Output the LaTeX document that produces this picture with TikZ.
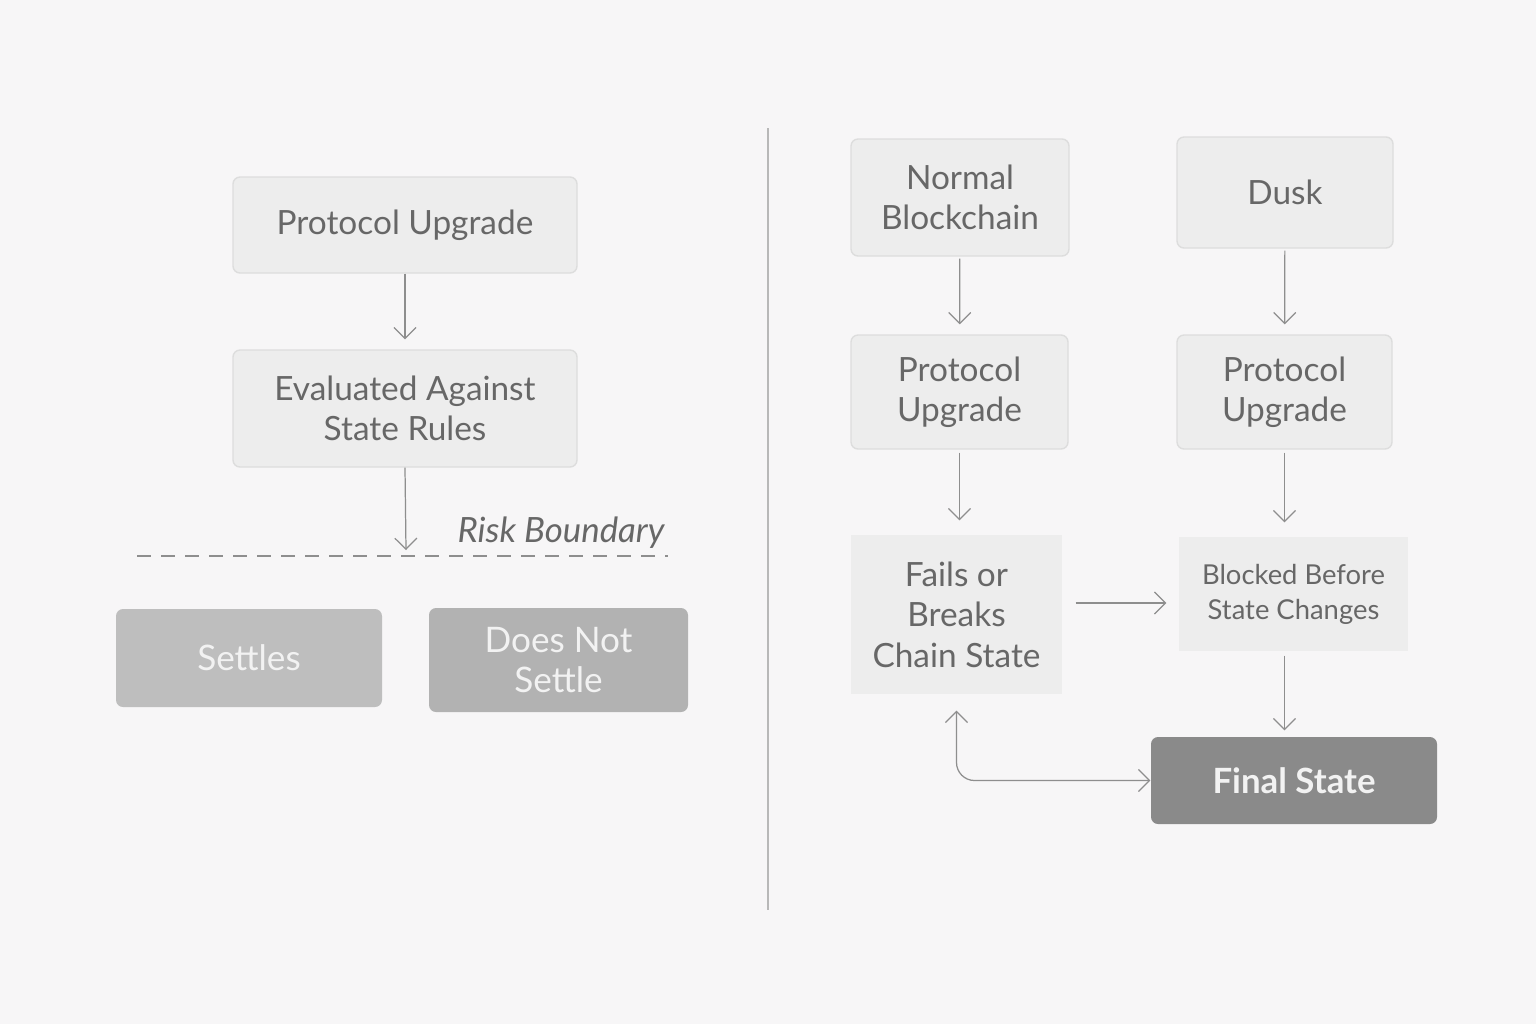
\documentclass[tikz,border=0pt]{standalone}
\usepackage{fontspec}
\setmainfont{Lato}
\usetikzlibrary{arrows.meta,positioning}
\definecolor{paper}{HTML}{F7F6F7}
\definecolor{boxfill}{HTML}{EDEDED}
\definecolor{boxline}{HTML}{DDDDDD}
\definecolor{txtgray}{HTML}{676767}
\definecolor{arrgray}{HTML}{8E8E8E}
\definecolor{settlefill}{HTML}{BEBEBE}
\definecolor{nosettlefill}{HTML}{B2B2B2}
\definecolor{finalfill}{HTML}{8A8A8A}
\begin{document}
\begin{tikzpicture}[
  box/.style={rectangle, draw=boxline, fill=boxfill, text=txtgray, align=center, inner sep=0pt, rounded corners=2pt, font=\fontsize{9.5}{11.4}\selectfont},
  flat/.style={rectangle, fill=boxfill, text=txtgray, align=center, inner sep=0pt, font=\fontsize{9.5}{11.5}\selectfont},
  dark/.style={rectangle, fill=#1, text=white!95!black, align=center, inner sep=0pt, rounded corners=2pt, font=\fontsize{10}{11.2}\selectfont},
  arr/.style={-{Straight Barb[length=1.1mm, width=2.2mm]}, arrgray, line width=0.35pt},
  biarr/.style={{Straight Barb[length=1.1mm, width=2.2mm]}-{Straight Barb[length=1.1mm, width=2.2mm]}, arrgray, line width=0.35pt}
]
  \fill[paper] (0,0) rectangle (15.36,-10.24);
  \useasboundingbox (0,0) rectangle (15.36,-10.24);

  \coordinate (divtop) at (7.68,-1.28);
  \coordinate (divbot) at (7.68,-9.10);
  \draw[black!28, line width=0.4pt] (divtop) -- (divbot);

  \node[box, minimum width=3.44cm, minimum height=0.96cm] (up) at (4.05,-2.25) {Protocol Upgrade};
  \node[box, minimum width=3.44cm, minimum height=1.17cm] (eval) at (4.05,-4.085) {Evaluated Against\\State Rules};

  \coordinate (bleft) at (1.37,-5.56);
  \coordinate (bright) at (6.68,-5.56);
  \coordinate (bhit) at (4.06,-5.50);
  \draw[arrgray, line width=0.5pt, dash pattern=on 1.4mm off 1mm] (bleft) -- (bright);
  \node[text=txtgray, font=\fontsize{9.9}{11}\selectfont\itshape] (risk) at (5.61,-5.33) {Risk Boundary};

  \node[dark=settlefill, minimum width=2.66cm, minimum height=0.98cm] (settle) at (2.49,-6.58) {Settles};
  \node[dark=nosettlefill, minimum width=2.59cm, minimum height=1.04cm] (nosettle) at (5.585,-6.60) {Does Not\\Settle};

  \draw[arr, shorten >=1mm] (up) -- (eval);
  \draw[arr] (eval.south) -- (bhit);

  \node[box, minimum width=2.18cm, minimum height=1.17cm] (normal) at (9.60,-1.975) {Normal\\Blockchain};
  \node[box, minimum width=2.16cm, minimum height=1.11cm] (dusk) at (12.85,-1.925) {Dusk};
  \node[box, minimum width=2.17cm, minimum height=1.14cm] (nup) at (9.595,-3.92) {Protocol\\Upgrade};
  \node[box, minimum width=2.15cm, minimum height=1.14cm] (dup) at (12.845,-3.92) {Protocol\\Upgrade};
  \node[flat, minimum width=2.11cm, minimum height=1.59cm] (fails) at (9.565,-6.145) {Fails or\\Breaks\\Chain State};
  \node[flat, minimum width=2.29cm, minimum height=1.14cm, font=\fontsize{7.8}{10}\selectfont] (blocked) at (12.935,-5.94) {Blocked Before\\State Changes};
  \node[dark=finalfill, minimum width=2.86cm, minimum height=0.87cm, font=\fontsize{9.9}{11}\selectfont\bfseries] (final) at (12.94,-7.805) {Final State};

  \draw[arr, shorten <=0.2mm, shorten >=1mm] (normal) -- (nup);
  \draw[arr, shorten <=0.2mm, shorten >=1mm] (dusk) -- (dup);
  \draw[arr, shorten <=0.3mm, shorten >=1.4mm] (nup) -- (nup.south |- fails.north);
  \draw[arr, shorten <=0.3mm, shorten >=1.4mm] (dup.south) -- (dup.south |- blocked.north);
  \draw[arr, shorten <=1.3mm, shorten >=1.2mm] ([yshift=-0.9mm]blocked.west -| fails.east) -- ([yshift=-0.9mm]blocked.west);
  \draw[arr, shorten <=0.4mm, shorten >=0.6mm] (blocked.south -| dup.south) -- (dup.south |- final.north);
  \draw[biarr, rounded corners=1.8mm, shorten <=1.6mm] (fails.south) |- (final.west);
\end{tikzpicture}
\end{document}
